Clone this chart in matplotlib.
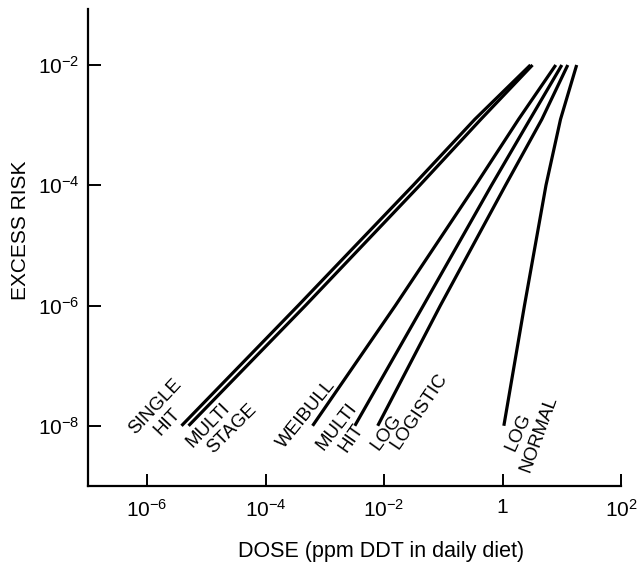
import numpy as np
import matplotlib
matplotlib.use('Agg')
import matplotlib.pyplot as plt
from matplotlib.ticker import FixedLocator, FuncFormatter, NullLocator

plt.rcParams['font.family'] = ['Liberation Sans', 'DejaVu Sans']

# excess risk levels at which each model's dose was read
risk = [1e-8, 1e-6, 1e-4, 1.25e-3, 1e-2]

# dose (ppm DDT in daily diet) giving the risk above, per model
single_hit = [3.8e-6, 3.55e-4, 0.031, 0.34, 2.95]
multi_stage = [5.0e-6, 4.7e-4, 0.040, 0.43, 3.2]
weibull = [6.2e-4, 0.0155, 0.35, 1.86, 7.9]
multi_hit = [3.2e-3, 0.046, 0.65, 2.9, 10.0]
log_logistic = [7.8e-3, 0.089, 1.12, 4.6, 12.6]
log_normal = [1.05, 2.34, 5.4, 9.5, 17.8]

x_ticks = [1e-6, 1e-4, 1e-2, 1, 1e2]
y_ticks = [1e-8, 1e-6, 1e-4, 1e-2]


def pow_label(v, pos=None):
    e = int(round(np.log10(v)))
    if e == 0:
        return '1'
    return r'$\mathregular{10^{%d}}$' % e


fig = plt.figure(figsize=(6.37, 5.67), dpi=100)
ax = fig.add_axes([0.138, 0.143, 0.837, 0.841])

for d in [single_hit, multi_stage, weibull, multi_hit, log_logistic, log_normal]:
    ax.plot(d, risk, color='black', lw=2.3, solid_capstyle='butt')

ax.set_xscale('log')
ax.set_yscale('log')
ax.set_xlim(1e-7, 1e2)
ax.set_ylim(1e-9, 10 ** -1.07)

ax.xaxis.set_major_locator(FixedLocator(x_ticks))
ax.yaxis.set_major_locator(FixedLocator(y_ticks))
ax.xaxis.set_minor_locator(NullLocator())
ax.yaxis.set_minor_locator(NullLocator())
ax.xaxis.set_major_formatter(FuncFormatter(pow_label))
ax.yaxis.set_major_formatter(FuncFormatter(pow_label))

ax.spines['top'].set_visible(False)
ax.spines['right'].set_visible(False)
for s in ['left', 'bottom']:
    ax.spines[s].set_linewidth(1.6)
ax.tick_params(direction='in', length=9, width=1.4, labelsize=15, pad=6)
ax.tick_params(axis='x', pad=9)

ax.set_xlabel('DOSE (ppm DDT in daily diet)', fontsize=15.5)
ax.set_ylabel('EXCESS RISK', fontsize=15)
ax.xaxis.set_label_coords(0.55, -0.115)
ax.yaxis.set_label_coords(-0.108, 0.537)

# model names written along the lower ends of the curves (pixel centre, angle)
labels = [
    ('SINGLE', 155, 407, 47),
    ('HIT', 167, 422, 47),
    ('MULTI', 208, 425, 46),
    ('STAGE', 232, 429, 45),
    ('WEIBULL', 306, 414, 51),
    ('MULTI', 337, 427, 52),
    ('HIT', 351, 438, 55),
    ('LOG', 386, 432, 54),
    ('LOGISTIC', 419, 411, 56),
    ('LOG', 518, 432, 66),
    ('NORMAL', 539, 434, 70),
]
H = 567
for txt, px, py, rot in labels:
    fig.text(px / 637, (H - py) / H, txt, fontsize=13.5, rotation=rot,
             ha='center', va='center', rotation_mode='anchor')

fig.savefig('out.png', dpi=100)
